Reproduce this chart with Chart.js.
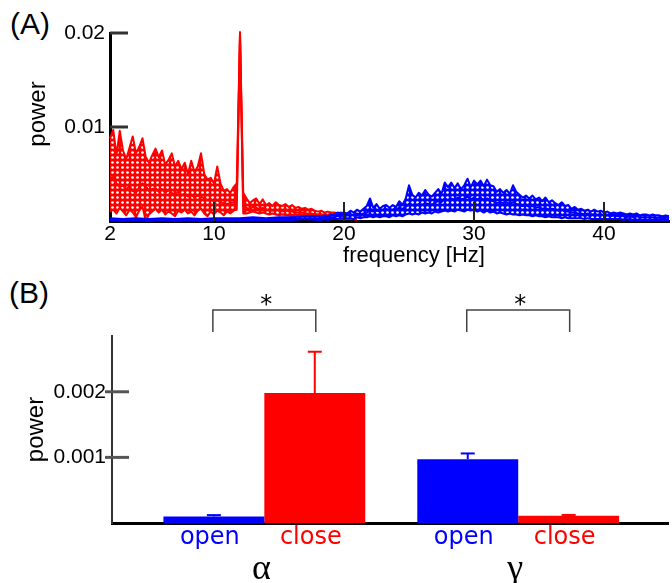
<!DOCTYPE html>
<html><head><meta charset="utf-8">
<script src="https://cdn.jsdelivr.net/npm/chart.js@4.4.1/dist/chart.umd.min.js"></script>
<style>
html,body{margin:0;padding:0;background:#fff;width:672px;height:583px;overflow:hidden;}
#wa{position:absolute;left:0;top:0;width:672px;height:270px;}
#wb{position:absolute;left:0;top:280px;width:672px;height:303px;}
.lab{position:absolute;font-family:"Liberation Sans",Arial,sans-serif;font-size:30px;color:#000;line-height:30px;}
</style></head><body>
<div class="lab" style="left:10px;top:9px">(A)</div>
<div class="lab" style="left:9px;top:278px">(B)</div>
<div id="wa"><canvas id="ca"></canvas></div>
<div id="wb"><canvas id="cb"></canvas></div>
<script>
// ---------- Panel A data ----------
const FREQ_TICKS = [2, 10, 20, 30, 40];
const POWER_TICKS_A = [0.01, 0.02];
// eyes closed (red): 2.00 .. 21.00 Hz, 0.25 Hz resolution
const CLOSE_FREQ_START = 2, CLOSE_FREQ_STEP = 0.25;
const closeUpper = [
 0.0088,0.0097,0.0070,0.0096,0.0075,0.0066,0.0078,0.0090,0.0072,0.0079,
 0.0088,0.0068,0.0062,0.0070,0.0077,0.0068,0.0075,0.0060,0.0065,0.0072,
 0.0058,0.0064,0.0055,0.0062,0.0050,0.0064,0.0052,0.0058,0.0072,0.0050,
 0.0044,0.0046,0.0040,0.0058,0.0040,0.0032,0.0034,0.0030,0.0036,0.0040,
 0.0201,0.0030,0.0024,0.0019,0.0022,0.0024,0.0018,0.0023,0.0017,0.0019,
 0.0016,0.0020,0.0017,0.0016,0.0018,0.0015,0.0017,0.0014,0.0015,0.0013,
 0.0014,0.0012,0.0013,0.0011,0.0010,0.0011,0.0009,0.0010,0.0009,0.0009,
 0.0008,0.0009,0.0008,0.0007,0.0007,0.0006,0.0006];
const closeMean = [
 0.0045,0.0047,0.0040,0.0036,0.0038,0.0034,0.0037,0.0032,0.0030,0.0036,
 0.0040,0.0037,0.0032,0.0034,0.0035,0.0031,0.0034,0.0030,0.0033,0.0030,
 0.0028,0.0031,0.0027,0.0029,0.0026,0.0028,0.0025,0.0027,0.0026,0.0024,
 0.0022,0.0023,0.0021,0.0022,0.0020,0.0019,0.0018,0.0019,0.0020,0.0022,
 0.0199,0.0016,0.0014,0.0013,0.0015,0.0014,0.0013,0.0014,0.0012,0.0012,
 0.0011,0.0012,0.0011,0.0010,0.0011,0.0010,0.0010,0.0009,0.0009,0.0009,
 0.0008,0.0008,0.0008,0.0007,0.0007,0.0007,0.0006,0.0006,0.0006,0.0005,
 0.0005,0.0005,0.0005,0.0004,0.0004,0.0004,0.0003];
const closeLower = [
 0.0010,0.0012,0.0008,0.0014,0.0010,0.0006,0.0012,0.0009,0.0004,0.0011,
 0.0015,0.0000,0.0007,0.0010,0.0013,0.0009,0.0012,0.0007,0.0010,0.0008,
 0.0005,0.0011,0.0009,0.0012,0.0008,0.0010,0.0006,0.0011,0.0013,0.0008,
 0.0005,0.0010,0.0007,0.0011,0.0009,0.0006,0.0010,0.0008,0.0011,0.0012,
 0.0195,0.0008,0.0008,0.0009,0.0010,0.0009,0.0008,0.0009,0.0008,0.0007,
 0.0008,0.0007,0.0006,0.0007,0.0006,0.0006,0.0005,0.0006,0.0005,0.0005,
 0.0005,0.0004,0.0004,0.0004,0.0004,0.0003,0.0003,0.0003,0.0003,0.0003,
 0.0002,0.0002,0.0002,0.0002,0.0002,0.0002,0.0001];
// eyes open (blue): 2..18 Hz at 1 Hz, then 18.25..45 Hz at 0.25 Hz
const OPEN_FREQ_COARSE = [2,3,4,5,6,7,8,9,10,11,12,13,14,15,16,17,18];
const OPEN_FINE_START = 18.25, OPEN_FINE_STEP = 0.25;
const openUpper = [
 0.0003,0.0002,0.0003,0.0002,0.0003,0.0002,0.0003,0.0002,0.0003,0.0003,0.0003,0.0004,0.0003,0.0004,0.0004,0.0005,0.0005,
 0.0005,0.0006,0.0005,0.0007, 0.0007,0.0009,0.0008,0.0009, 0.0008,0.0011,0.0009,0.0012, 0.0010,0.0013,0.0016,0.0024,
 0.0014,0.0018,0.0013,0.0016, 0.0017,0.0014,0.0017,0.0015, 0.0021,0.0017,0.0024,0.0038, 0.0028,0.0025,0.0030,0.0027,
 0.0033,0.0028,0.0026,0.0030, 0.0034,0.0029,0.0041,0.0036, 0.0041,0.0035,0.0040,0.0034, 0.0038,0.0045,0.0036,0.0043,
 0.0039,0.0043,0.0037,0.0044, 0.0038,0.0037,0.0031,0.0034, 0.0030,0.0033,0.0029,0.0038, 0.0031,0.0028,0.0025,0.0027,
 0.0024,0.0027,0.0023,0.0025, 0.0021,0.0025,0.0020,0.0022, 0.0019,0.0017,0.0020,0.0016, 0.0017,0.0013,0.0015,0.0012,
 0.0013,0.0011,0.0012,0.0010, 0.0012,0.0010,0.0011,0.0009, 0.0010,0.0008,0.0009,0.0008, 0.0009,0.0008,0.0007,0.0008,
 0.0007,0.0008,0.0006,0.0007, 0.0007,0.0006,0.0007,0.0006, 0.0006,0.0005,0.0006,0.0005];
const openMean = [
 0.0002,0.0001,0.0002,0.0001,0.0002,0.0001,0.0002,0.0001,0.0002,0.0002,0.0002,0.0002,0.0002,0.0003,0.0002,0.0003,0.0003,
 0.0003,0.0004,0.0003,0.0004, 0.0004,0.0005,0.0005,0.0006, 0.0006,0.0007,0.0006,0.0008, 0.0007,0.0008,0.0009,0.0011,
 0.0010,0.0011,0.0010,0.0012, 0.0013,0.0011,0.0012,0.0013, 0.0014,0.0013,0.0015,0.0018, 0.0017,0.0016,0.0018,0.0017,
 0.0019,0.0018,0.0017,0.0020, 0.0021,0.0020,0.0024,0.0022, 0.0024,0.0022,0.0025,0.0023, 0.0024,0.0026,0.0023,0.0025,
 0.0023,0.0025,0.0022,0.0024, 0.0022,0.0021,0.0019,0.0020, 0.0019,0.0020,0.0018,0.0020, 0.0018,0.0017,0.0016,0.0017,
 0.0015,0.0016,0.0014,0.0015, 0.0013,0.0014,0.0012,0.0013, 0.0012,0.0011,0.0012,0.0010, 0.0010,0.0009,0.0009,0.0008,
 0.0008,0.0007,0.0008,0.0007, 0.0007,0.0006,0.0007,0.0006, 0.0006,0.0005,0.0006,0.0005, 0.0005,0.0005,0.0004,0.0005,
 0.0004,0.0005,0.0004,0.0004, 0.0004,0.0004,0.0004,0.0003, 0.0004,0.0003,0.0004,0.0003];
const openLower = [
 0.0001,0.0000,0.0001,0.0000,0.0001,0.0000,0.0001,0.0000,0.0001,0.0001,0.0001,0.0001,0.0001,0.0001,0.0001,0.0002,0.0001,
 0.0001,0.0002,0.0001,0.0002, 0.0002,0.0002,0.0003,0.0003, 0.0003,0.0003,0.0002,0.0004, 0.0003,0.0004,0.0004,0.0005,
 0.0004,0.0005,0.0004,0.0005, 0.0005,0.0004,0.0006,0.0005, 0.0006,0.0005,0.0007,0.0008, 0.0007,0.0008,0.0007,0.0009,
 0.0008,0.0009,0.0008,0.0010, 0.0009,0.0010,0.0011,0.0010, 0.0011,0.0010,0.0012,0.0011, 0.0010,0.0012,0.0011,0.0012,
 0.0010,0.0011,0.0009,0.0011, 0.0009,0.0010,0.0008,0.0009, 0.0008,0.0007,0.0008,0.0007, 0.0007,0.0006,0.0007,0.0006,
 0.0006,0.0005,0.0006,0.0005, 0.0005,0.0004,0.0005,0.0004, 0.0004,0.0004,0.0003,0.0004, 0.0003,0.0003,0.0003,0.0003,
 0.0003,0.0002,0.0003,0.0002, 0.0002,0.0002,0.0002,0.0002, 0.0002,0.0002,0.0002,0.0002, 0.0002,0.0001,0.0002,0.0001,
 0.0001,0.0001,0.0001,0.0001, 0.0001,0.0001,0.0001,0.0001, 0.0001,0.0001,0.0001,0.0001];

// ---------- Panel B data ----------
const BANDS = ['α', 'γ'];
const STATES = ['open', 'close'];
const openPower  = [0.00010, 0.00097];
const openErr    = [0.00002, 0.00009];
const closePower = [0.00198, 0.00011];
const closeErr   = [0.00063, 0.000013];
const POWER_TICKS_B = [0.001, 0.002];

const BLUE = '#0000ff', RED = '#ff0000';
const SANS = '"Liberation Sans", Arial, sans-serif';

const closeFreq = closeUpper.map((_, i) => CLOSE_FREQ_START + i * CLOSE_FREQ_STEP);
const openFreq = OPEN_FREQ_COARSE.concat(
  openUpper.slice(OPEN_FREQ_COARSE.length).map((_, i) => OPEN_FINE_START + i * OPEN_FINE_STEP));
const pts = (fr, vals) => vals.map((v, i) => ({x: fr[i], y: v}));

function dotPattern(color) {
  const c = document.createElement('canvas'); c.width = 5; c.height = 5;
  const g = c.getContext('2d');
  g.fillStyle = color; g.fillRect(0, 0, 5, 5);
  g.fillStyle = '#fff'; g.beginPath(); g.arc(2.5, 2.5, 1.35, 0, Math.PI * 2); g.fill();
  return g.createPattern(c, 'repeat');
}
const lineBase = {pointRadius: 0, borderWidth: 2.0, tension: 0, clip: false, borderJoinStyle: 'round'};

function line(ctx, x1, y1, x2, y2) { ctx.beginPath(); ctx.moveTo(x1, y1); ctx.lineTo(x2, y2); ctx.stroke(); }

const panelAExtras = {
  id: 'panelAExtras',
  afterDraw(chart) {
    const {ctx, chartArea: ca, scales: {x, y}} = chart;
    ctx.save();
    ctx.strokeStyle = '#222'; ctx.lineWidth = 2;
    FREQ_TICKS.forEach(v => { if (v !== x.min) { const px = x.getPixelForValue(v); line(ctx, px, ca.bottom, px, ca.bottom - 19); } });
    ctx.strokeStyle = '#333'; ctx.lineWidth = 3;
    POWER_TICKS_A.forEach(v => { const py = y.getPixelForValue(v); line(ctx, ca.left, py, ca.left + 18, py); });
    ctx.fillStyle = '#000';
    ctx.font = '22px ' + SANS; ctx.textAlign = 'center'; ctx.textBaseline = 'middle';
    ctx.fillText('frequency [Hz]', 414, 256);
    ctx.font = '24px ' + SANS;
    ctx.translate(38, 114); ctx.rotate(-Math.PI / 2);
    ctx.fillText('power', 0, 0);
    ctx.restore();
  }
};

new Chart(document.getElementById('ca'), {
  type: 'line',
  data: { datasets: [
    Object.assign({data: pts(openFreq, openUpper), borderColor: BLUE, fill: '+2', backgroundColor: dotPattern(BLUE), order: 5}, lineBase),
    Object.assign({data: pts(openFreq, openMean), borderColor: BLUE, fill: false, order: 4}, lineBase),
    Object.assign({data: pts(openFreq, openLower), borderColor: BLUE, fill: false, order: 4}, lineBase),
    Object.assign({data: pts(closeFreq, closeUpper), borderColor: RED, fill: '+2', backgroundColor: dotPattern(RED), order: 10}, lineBase),
    Object.assign({data: pts(closeFreq, closeMean), borderColor: RED, fill: false, order: 9}, lineBase),
    Object.assign({data: pts(closeFreq, closeLower), borderColor: RED, fill: false, order: 9}, lineBase)
  ]},
  options: {
    responsive: true, maintainAspectRatio: false, animation: false,
    layout: {padding: {left: 0, right: 3, top: 33, bottom: 0}},
    plugins: {legend: {display: false}, tooltip: {enabled: false}},
    scales: {
      x: {type: 'linear', min: 2, max: 45, z: 1,
        afterBuildTicks: s => { s.ticks = FREQ_TICKS.map(v => ({value: v})); },
        afterFit: s => { s.height = 49; },
        grid: {display: false, drawTicks: false},
        border: {display: true, color: '#000', width: 3},
        ticks: {color: '#000', font: {family: SANS, size: 21}, padding: 1, maxRotation: 0, autoSkip: false, callback: v => String(v)}},
      y: {min: 0, max: 0.02, z: 1,
        afterBuildTicks: s => { s.ticks = POWER_TICKS_A.map(v => ({value: v})); },
        afterFit: s => { s.width = 110; },
        grid: {display: false, drawTicks: false},
        border: {display: true, color: '#000', width: 3},
        ticks: {color: '#000', font: {family: SANS, size: 21}, padding: 5, callback: v => v.toFixed(2)}}
    }
  },
  plugins: [panelAExtras]
});

// ---------- Panel B ----------
const errs = [openErr, closeErr];
const colors = [BLUE, RED];
const panelBExtras = {
  id: 'panelBExtras',
  afterDraw(chart) {
    const {ctx, chartArea: ca, scales: {x, y}} = chart;
    ctx.save();
    ctx.strokeStyle = '#555'; ctx.lineWidth = 3;
    POWER_TICKS_B.forEach(v => { const py = y.getPixelForValue(v); line(ctx, ca.left - 7, py, ca.left + 17, py); });
    ctx.lineWidth = 2;
    chart.data.datasets.forEach((ds, d) => {
      const meta = chart.getDatasetMeta(d);
      meta.data.forEach((bar, i) => {
        const top = y.getPixelForValue(ds.data[i].y + errs[d][i]);
        ctx.strokeStyle = colors[d];
        line(ctx, bar.x, bar.y, bar.x, top);
        line(ctx, bar.x - 7, top, bar.x + 7, top);
      });
    });
    ctx.font = '24px "DejaVu Sans", sans-serif'; ctx.textAlign = 'center'; ctx.textBaseline = 'alphabetic';
    chart.data.datasets.forEach((ds, d) => {
      ctx.fillStyle = colors[d];
      chart.getDatasetMeta(d).data.forEach(bar => ctx.fillText(STATES[d], bar.x - 4, 264));
    });
    ctx.fillStyle = '#000'; ctx.font = '36px "Liberation Serif", serif';
    BANDS.forEach((b, i) => ctx.fillText(b, x.getPixelForValue(i) - 3, 299));
    const m0 = chart.getDatasetMeta(0).data, m1 = chart.getDatasetMeta(1).data;
    ctx.strokeStyle = '#444'; ctx.lineWidth = 1.5;
    ctx.font = '24px "DejaVu Sans", sans-serif';
    BANDS.forEach((b, i) => {
      const a = m0[i].x - 1, c = m1[i].x + 1, topY = ca.top - 26, legY = ca.top - 4;
      ctx.beginPath(); ctx.moveTo(a, legY); ctx.lineTo(a, topY); ctx.lineTo(c, topY); ctx.lineTo(c, legY); ctx.stroke();
      ctx.fillText('*', (a + c) / 2 + 2, ca.top - 24);
    });
    ctx.font = '24px ' + SANS; ctx.textBaseline = 'middle';
    ctx.translate(36, (ca.top + ca.bottom) / 2); ctx.rotate(-Math.PI / 2);
    ctx.fillText('power', 0, 0);
    ctx.restore();
  }
};

new Chart(document.getElementById('cb'), {
  type: 'bar',
  data: { datasets: [
    {data: openPower.map((v, i) => ({x: i, y: v})), backgroundColor: BLUE, borderWidth: 0, categoryPercentage: 0.795, barPercentage: 1.0},
    {data: closePower.map((v, i) => ({x: i, y: v})), backgroundColor: RED, borderWidth: 0, categoryPercentage: 0.795, barPercentage: 1.0}
  ]},
  options: {
    responsive: true, maintainAspectRatio: false, animation: false,
    layout: {padding: {left: 0, right: 4, top: 56, bottom: 0}},
    plugins: {legend: {display: false}, tooltip: {enabled: false}},
    scales: {
      x: {type: 'linear', min: -0.6, max: 1.59, offset: false, z: 1,
        afterBuildTicks: s => { s.ticks = BANDS.map((b, i) => ({value: i})); },
        afterFit: s => { s.height = 60; },
        grid: {display: false, drawTicks: false, offset: false},
        border: {display: true, color: '#000', width: 3},
        ticks: {display: false}},
      y: {min: 0, max: 0.00285, z: 1,
        afterBuildTicks: s => { s.ticks = POWER_TICKS_B.map(v => ({value: v})); },
        afterFit: s => { s.width = 112; },
        grid: {display: false, drawTicks: false},
        border: {display: true, color: '#333', width: 2},
        ticks: {color: '#000', font: {family: SANS, size: 21}, padding: 6, callback: v => v.toFixed(3)}}
    }
  },
  plugins: [panelBExtras]
});
</script>
</body></html>
